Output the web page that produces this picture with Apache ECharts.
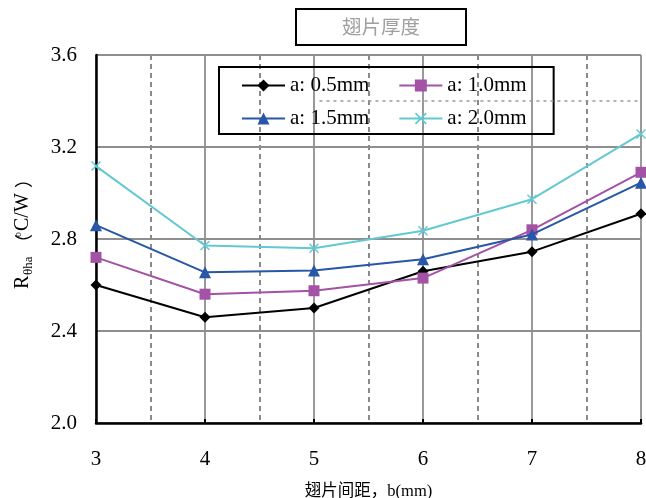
<!DOCTYPE html>
<html>
<head>
<meta charset="utf-8">
<script src="https://cdn.jsdelivr.net/npm/echarts@6/dist/echarts.min.js"></script>
<style>
  html, body { margin: 0; padding: 0; background: #fff; overflow: hidden; }
  #chart { width: 646px; height: 498px; }
</style>
</head>
<body>
<div id="chart"></div>
<script>
// Fin spacing b (mm) on the x axis
const spacing = [3, 4, 5, 6, 7, 8];

// Thermal resistance R_θha (°C/W) for each fin thickness a
const seriesNames = ['a: 0.5mm', 'a: 1.0mm', 'a: 1.5mm', 'a: 2.0mm'];
const r05 = [2.60, 2.46, 2.50, 2.66, 2.745, 2.91];
const r10 = [2.72, 2.56, 2.575, 2.63, 2.84, 3.09];
const r15 = [2.86, 2.655, 2.663, 2.712, 2.82, 3.045];
const r20 = [3.117, 2.772, 2.76, 2.836, 2.973, 3.257];

const yTicks = { min: 2.0, max: 3.6, step: 0.4 };
const xTicks = { min: 3, max: 8, step: 1 };

const titleText = '翅片厚度';
const xName = '翅片间距，b(mm)';

const SERIF = '"Liberation Serif", "Times New Roman", serif';
const CJK = '"Liberation Serif", "Noto Sans CJK SC", serif';
const crossPath = 'path://M1,0 L5,4 L9,0 L10,1 L6,5 L10,9 L9,10 L5,6 L1,10 L0,9 L4,5 L0,1 Z';

function pairs(ys) { return spacing.map((x, i) => [x, ys[i]]); }

const styles = [
  { data: r05, color: '#000000', symbol: 'diamond', size: 11 },
  { data: r10, color: '#a452a6', symbol: 'rect', size: 11 },
  { data: r15, color: '#2856a8', symbol: 'triangle', size: 12 },
  { data: r20, color: '#62c9d3', symbol: crossPath, size: 10 }
];

const series = styles.map((s, i) => ({
  name: seriesNames[i],
  type: 'line',
  data: pairs(s.data),
  symbol: s.symbol,
  symbolSize: s.size,
  showAllSymbol: true,
  clip: false,
  z: 3 + i,
  lineStyle: { color: s.color, width: 2 },
  itemStyle: { color: s.color, borderWidth: 0 },
  emphasis: { disabled: true }
}));

// a single dotted reference at 3.4 across the upper right
series[0].markLine = {
  silent: true,
  symbol: 'none',
  label: { show: false },
  lineStyle: { color: '#9a9a9a', type: [3, 4], width: 1.5 },
  data: [[{ coord: [5.05, 3.4] }, { coord: [8, 3.4] }]]
};

const chart = echarts.init(document.getElementById('chart'), null, { renderer: 'canvas', width: 646, height: 498 });

chart.setOption({
  animation: false,
  backgroundColor: '#ffffff',
  grid: { left: 96, top: 55, width: 545, height: 368, containLabel: false, outerBoundsMode: 'none' },
  xAxis: {
    type: 'value',
    min: xTicks.min, max: xTicks.max, interval: xTicks.step,
    axisLine: { show: true, onZero: false, lineStyle: { color: '#000', width: 2.5 } },
    axisTick: { show: true, inside: true, length: 4, lineStyle: { color: '#000', width: 2 } },
    axisLabel: { color: '#000', fontFamily: SERIF, fontSize: 21, margin: 26 },
    splitLine: { show: true, lineStyle: { color: '#8e8e8e', width: 1.8 } },
    minorTick: { show: false, splitNumber: 2 },
    minorSplitLine: { show: true, lineStyle: { color: '#8a8a8a', width: 2, type: [5, 4] } },
    name: xName,
    nameLocation: 'middle',
    nameGap: 60,
    nameTextStyle: { color: '#000', fontFamily: CJK, fontSize: 16.5 }
  },
  yAxis: {
    type: 'value',
    min: yTicks.min, max: yTicks.max, interval: yTicks.step,
    axisLine: { show: true, onZero: false, lineStyle: { color: '#000', width: 2.5 } },
    axisTick: { show: false },
    axisLabel: {
      color: '#000', fontFamily: SERIF, fontSize: 21, margin: 19,
      formatter: v => v.toFixed(1)
    },
    splitLine: { show: true, lineStyle: { color: '#8e8e8e', width: 1.8 } }
  },
  legend: {
    left: 219, top: 67,
    width: 330,
    padding: [8, 10, 5, 22],
    itemGap: 12,
    itemWidth: 43, itemHeight: 15,
    borderColor: '#000', borderWidth: 2,
    backgroundColor: 'transparent',
    selectedMode: false,
    textStyle: { color: '#000', fontFamily: SERIF, fontSize: 21, lineHeight: 21, padding: [0, 17, 0, 0] },
    data: seriesNames
  },
  graphic: [
    {
      type: 'group', left: 295, top: 8,
      children: [
        { type: 'rect', shape: { x: 0, y: 0, width: 170, height: 36 },
          style: { fill: '#fff', stroke: '#000', lineWidth: 2 } },
        { type: 'text', x: 85, y: 18,
          style: { text: titleText, fill: '#a0a0a0', font: '19.5px "Noto Sans CJK SC", sans-serif',
                   align: 'center', verticalAlign: 'middle' } }
      ]
    },
    {
      // rotated y-axis name: R with subscript θha, unit in parentheses
      type: 'group', x: 23, y: 289, rotation: Math.PI / 2,
      children: [
        { type: 'text', x: 0, y: 0,
          style: { text: 'R', fill: '#000', font: '20px ' + SERIF, verticalAlign: 'middle' } },
        { type: 'text', x: 14, y: 6,
          style: { text: 'θha', fill: '#000', font: '13px ' + SERIF, verticalAlign: 'middle' } },
        { type: 'text', x: 37, y: 0,
          style: { text: '（', fill: '#000', font: '18px "Noto Sans CJK SC", sans-serif', verticalAlign: 'middle' } },
        { type: 'text', x: 52, y: -5,
          style: { text: 'o', fill: '#000', font: '10px ' + SERIF, verticalAlign: 'middle' } },
        { type: 'text', x: 58, y: 0,
          style: { text: 'C/W', fill: '#000', font: '20px ' + SERIF, verticalAlign: 'middle' } },
        { type: 'text', x: 97, y: 0,
          style: { text: ' ）', fill: '#000', font: '18px "Noto Sans CJK SC", sans-serif', verticalAlign: 'middle' } }
      ]
    }
  ],
  series: series
});
</script>
</body>
</html>
